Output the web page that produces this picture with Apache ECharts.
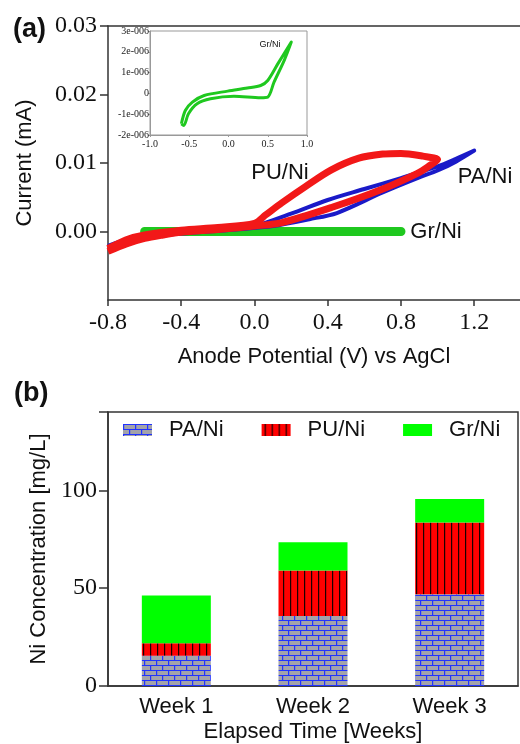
<!DOCTYPE html>
<html>
<head>
<meta charset="utf-8">
<script src="https://cdn.jsdelivr.net/npm/echarts@6/dist/echarts.min.js"></script>
<style>
  html, body { margin: 0; padding: 0; background: #fff; }
  #chart { width: 520px; height: 744px; }
</style>
</head>
<body>
<div id="chart"></div>
<script>
// (a) cyclic voltammetry, potential in V vs AgCl
var grVolt = [-0.60, -0.55, -0.46, -0.31, -0.01, 0.24, 0.41, 0.50, 0.63, 0.80,
              0.71, 0.58, 0.50, 0.41, 0.07, -0.23, -0.40, -0.51, -0.57, -0.60];
var grCurrent = [-1.46e-6, -0.82e-6, -0.42e-6, -0.10e-6, 0.11e-6, 0.26e-6, 0.38e-6, 0.62e-6, 1.43e-6, 2.47e-6,
                 1.59e-6, 0.54e-6, -0.18e-6, -0.21e-6, -0.14e-6, -0.26e-6, -0.50e-6, -0.98e-6, -1.54e-6, -1.46e-6];

var paVolt = [-0.8, -0.7, -0.6, -0.4, -0.2, 0.0, 0.2, 0.4, 0.6, 0.8, 1.0, 1.1, 1.2,
              1.1, 1.0, 0.9, 0.7, 0.45, 0.3, 0.1, -0.1, -0.4, -0.6, -0.8];
var paCurrent = [-0.0021, -0.0012, -0.0006, -0.0001, 0.0003, 0.0008, 0.0026, 0.0046, 0.0062, 0.0078, 0.0095, 0.0106, 0.0118,
                 0.0102, 0.0089, 0.0079, 0.0057, 0.0027, 0.0018, 0.0008, 0.0003, -0.0003, -0.0009, -0.0024];

var puVolt = [-0.8, -0.7, -0.6, -0.5, -0.4, -0.2, 0.0, 0.15, 0.42, 0.69, 0.89, 0.95, 1.0,
              0.92, 0.8, 0.7, 0.57, 0.42, 0.28, 0.15, 0.06, 0.0, -0.2, -0.4, -0.6, -0.7, -0.8];
var puCurrent = [-0.0029, -0.0018, -0.0010, -0.0005, -0.0001, 0.0003, 0.0008, 0.0013, 0.0035, 0.0061, 0.0085, 0.0095, 0.0105,
                 0.0110, 0.0114, 0.0113, 0.0107, 0.0090, 0.0066, 0.0042, 0.0024, 0.0012, 0.0006, 0.0002, -0.0005, -0.0012, -0.0025];

var cvXTicks = [-0.8, -0.4, 0.0, 0.4, 0.8, 1.2];
var cvYTicks = [0.00, 0.01, 0.02, 0.03];

// (b) Ni release per week
var weeks = ['Week 1', 'Week 2', 'Week 3'];
var paNi = [15.4, 35.8, 46.9];
var puNi = [6.5, 23.2, 36.7];
var grNi = [24.3, 14.5, 11.9];

function pairs(xs, ys) {
    var out = [];
    for (var i = 0; i < xs.length; i++) out.push([xs[i], ys[i]]);
    return out;
}

// brick pattern (grey bricks, blue mortar)
function brickPattern() {
    var c = document.createElement('canvas');
    c.width = 24; c.height = 10;
    var ctx = c.getContext('2d');
    ctx.fillStyle = '#a3a3aa';
    ctx.fillRect(0, 0, 24, 10);
    ctx.fillStyle = '#2233ff';
    ctx.fillRect(0, 0, 24, 1);
    ctx.fillRect(0, 5, 24, 1);
    ctx.fillRect(0, 0, 1.2, 5);
    ctx.fillRect(12, 0, 1.2, 5);
    ctx.fillRect(6, 5, 1.2, 5);
    ctx.fillRect(18, 5, 1.2, 5);
    return { image: c, repeat: 'repeat' };
}
// red with black vertical stripes
function stripePattern() {
    var c = document.createElement('canvas');
    c.width = 7; c.height = 4;
    var ctx = c.getContext('2d');
    ctx.fillStyle = '#ff0000';
    ctx.fillRect(0, 0, 7, 4);
    ctx.fillStyle = '#1a0000';
    ctx.fillRect(3, 0, 1.2, 4);
    return { image: c, repeat: 'repeat' };
}

var sans = 'Liberation Sans';
var serif = 'Liberation Serif';

var myChart = echarts.init(document.getElementById('chart'));
var option = {
    animation: false,
    backgroundColor: '#fff',
    grid: [
        { left: 108, right: 0, top: 26, bottom: 444 },
        { left: 150, top: 31, width: 157, height: 104, show: true, borderColor: '#999', borderWidth: 1, backgroundColor: '#fff' },
        { left: 108, right: 2, top: 412, bottom: 58, show: true, borderColor: '#333', borderWidth: 1.5 }
    ],
    legend: {
        data: ['PA/Ni', 'PU/Ni', 'Gr/Ni'],
        left: 118, top: 414, icon: 'rect',
        itemWidth: 29, itemHeight: 12, itemGap: 38,
        selectedMode: false,
        textStyle: { fontFamily: sans, fontSize: 22, color: '#111', padding: [0, 0, 0, 12] }
    },
    xAxis: [
        {
            gridIndex: 0, type: 'value', min: -0.8, max: 1.45,
            name: 'Anode Potential (V) vs AgCl', nameLocation: 'middle', nameGap: 46,
            nameTextStyle: { fontFamily: sans, fontSize: 22, color: '#111' },
            axisLine: { onZero: false, lineStyle: { color: '#333', width: 1.5 } },
            axisTick: { length: 6, customValues: cvXTicks, lineStyle: { color: '#333', width: 1.5 } },
            axisLabel: { customValues: cvXTicks, margin: 11, fontFamily: serif, fontSize: 24, color: '#111',
                formatter: function (v) { return v.toFixed(1); } },
            splitLine: { show: false }
        },
        {
            gridIndex: 0, type: 'value', position: 'top', min: -0.8, max: 1.45,
            axisLine: { show: true, onZero: false, lineStyle: { color: '#333', width: 1.5 } },
            axisTick: { show: false }, axisLabel: { show: false }, splitLine: { show: false }
        },
        {
            gridIndex: 1, type: 'value', min: -1, max: 1, interval: 0.5,
            axisLine: { onZero: false, lineStyle: { color: '#999' } },
            axisTick: { length: 2, lineStyle: { color: '#999' } },
            axisLabel: { margin: 4, fontFamily: serif, fontSize: 10, color: '#222',
                formatter: function (v) { return v.toFixed(1); } },
            splitLine: { show: false }
        },
        {
            gridIndex: 2, type: 'category', data: weeks,
            name: 'Elapsed Time [Weeks]', nameLocation: 'middle', nameGap: 35,
            nameTextStyle: { fontFamily: sans, fontSize: 22, color: '#111' },
            axisLine: { lineStyle: { color: '#333', width: 1.5 } },
            axisTick: { show: false },
            axisLabel: { margin: 10, fontFamily: sans, fontSize: 22, color: '#111' }
        }
    ],
    yAxis: [
        {
            gridIndex: 0, type: 'value', min: -0.01, max: 0.03,
            name: 'Current (mA)', nameLocation: 'middle', nameGap: 72,
            nameTextStyle: { fontFamily: sans, fontSize: 22, color: '#111' },
            axisLine: { show: true, onZero: false, lineStyle: { color: '#333', width: 1.5 } },
            axisTick: { show: true, length: 8, customValues: cvYTicks, lineStyle: { color: '#333', width: 1.5 } },
            axisLabel: { customValues: cvYTicks, margin: 11, fontFamily: serif, fontSize: 24, color: '#111',
                formatter: function (v) { return v.toFixed(2); } },
            splitLine: { show: false }
        },
        {
            gridIndex: 1, type: 'value', min: -2e-6, max: 3e-6, interval: 1e-6,
            axisLine: { show: true, onZero: false, lineStyle: { color: '#999' } },
            axisTick: { show: true, length: 2, lineStyle: { color: '#999' } },
            axisLabel: { margin: 1, fontFamily: serif, fontSize: 10, color: '#222',
                formatter: function (v) {
                    var n = Math.round(v * 1e6);
                    return n === 0 ? '0' : n + 'e-006';
                } },
            splitLine: { show: false }
        },
        {
            gridIndex: 2, type: 'value', min: 0, max: 140, interval: 50,
            name: 'Ni Concentration [mg/L]', nameLocation: 'middle', nameGap: 57,
            nameTextStyle: { fontFamily: sans, fontSize: 22, color: '#111' },
            axisLine: { show: true, lineStyle: { color: '#333', width: 1.5 } },
            axisTick: { show: true, length: 9, lineStyle: { color: '#333', width: 1.5 } },
            axisLabel: { margin: 11, fontFamily: serif, fontSize: 24, color: '#111',
                formatter: function (v) { return v > 100 ? '' : v; } },
            splitLine: { show: false }
        }
    ],
    series: [
        {
            name: 'Gr/Ni CV', type: 'line', xAxisIndex: 0, yAxisIndex: 0,
            data: pairs(grVolt, grCurrent), showSymbol: false, silent: true,
            lineStyle: { color: '#1fc81f', width: 9, cap: 'round', join: 'round' }, z: 2
        },
        {
            name: 'PA/Ni CV', type: 'line', xAxisIndex: 0, yAxisIndex: 0,
            data: pairs(paVolt, paCurrent), showSymbol: false, smooth: 0.3, silent: true,
            lineStyle: { color: '#1a1ac8', width: 4, join: 'round' }, z: 3
        },
        {
            name: 'PU/Ni CV', type: 'line', xAxisIndex: 0, yAxisIndex: 0,
            data: pairs(puVolt, puCurrent), showSymbol: false, smooth: 0.3, silent: true,
            lineStyle: { color: '#f21818', width: 7, join: 'round' }, z: 4
        },
        {
            name: 'Gr/Ni inset', type: 'line', xAxisIndex: 2, yAxisIndex: 1,
            data: pairs(grVolt, grCurrent), showSymbol: false, smooth: 0.3, silent: true,
            lineStyle: { color: '#1fc81f', width: 3, join: 'round' }, z: 6
        },
        {
            name: 'PA/Ni', type: 'bar', xAxisIndex: 3, yAxisIndex: 2, stack: 'ni',
            data: paNi, barWidth: 69, itemStyle: { color: brickPattern() }
        },
        {
            name: 'PU/Ni', type: 'bar', xAxisIndex: 3, yAxisIndex: 2, stack: 'ni',
            data: puNi, barWidth: 69, itemStyle: { color: stripePattern() }
        },
        {
            name: 'Gr/Ni', type: 'bar', xAxisIndex: 3, yAxisIndex: 2, stack: 'ni',
            data: grNi, barWidth: 69, itemStyle: { color: '#00ff00' }
        }
    ],
    graphic: [
        { type: 'text', left: 13, top: 16, style: { text: '(a)', font: 'bold 27px Liberation Sans', fill: '#111' } },
        { type: 'text', left: 14, top: 380, style: { text: '(b)', font: 'bold 27px Liberation Sans', fill: '#111' } },
        { type: 'text', x: 280, y: 173, style: { text: 'PU/Ni', font: '22px Liberation Sans', fill: '#111', align: 'center', verticalAlign: 'middle' }, z: 10 },
        { type: 'text', x: 485, y: 177, style: { text: 'PA/Ni', font: '22px Liberation Sans', fill: '#111', align: 'center', verticalAlign: 'middle' }, z: 10 },
        { type: 'text', x: 436, y: 232, style: { text: 'Gr/Ni', font: '22px Liberation Sans', fill: '#111', align: 'center', verticalAlign: 'middle' }, z: 10 },
        { type: 'text', x: 270, y: 45, style: { text: 'Gr/Ni', font: '9px Liberation Sans', fill: '#111', align: 'center', verticalAlign: 'middle' }, z: 10 }
    ]
};
myChart.setOption(option);
</script>
</body>
</html>
